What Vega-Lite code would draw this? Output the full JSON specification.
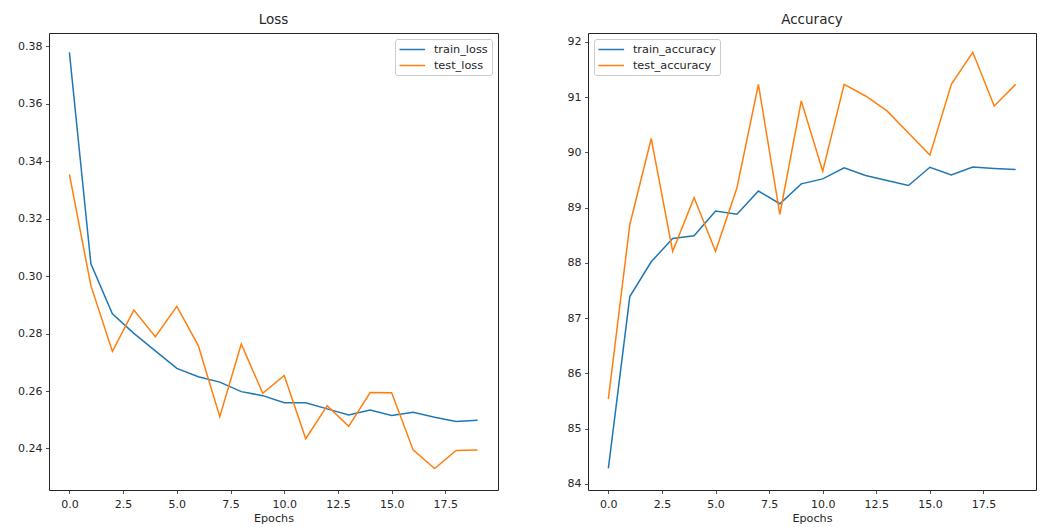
{
  "$schema": "https://vega.github.io/schema/vega-lite/v6.json",
  "background": "white",
  "padding": {"left": 17, "top": 12, "right": 4, "bottom": 0},
  "bounds": "flush",
  "spacing": 90,
  "datasets": {
    "loss": [
      {"epoch": 0, "series": "train_loss", "value": 0.3779},
      {"epoch": 1, "series": "train_loss", "value": 0.3043},
      {"epoch": 2, "series": "train_loss", "value": 0.2869},
      {"epoch": 3, "series": "train_loss", "value": 0.2801},
      {"epoch": 4, "series": "train_loss", "value": 0.2740},
      {"epoch": 5, "series": "train_loss", "value": 0.2679},
      {"epoch": 6, "series": "train_loss", "value": 0.2650},
      {"epoch": 7, "series": "train_loss", "value": 0.2631},
      {"epoch": 8, "series": "train_loss", "value": 0.2598},
      {"epoch": 9, "series": "train_loss", "value": 0.2584},
      {"epoch": 10, "series": "train_loss", "value": 0.2559},
      {"epoch": 11, "series": "train_loss", "value": 0.2559},
      {"epoch": 12, "series": "train_loss", "value": 0.2538},
      {"epoch": 13, "series": "train_loss", "value": 0.2517},
      {"epoch": 14, "series": "train_loss", "value": 0.2534},
      {"epoch": 15, "series": "train_loss", "value": 0.2515},
      {"epoch": 16, "series": "train_loss", "value": 0.2526},
      {"epoch": 17, "series": "train_loss", "value": 0.2509},
      {"epoch": 18, "series": "train_loss", "value": 0.2494},
      {"epoch": 19, "series": "train_loss", "value": 0.2498},
      {"epoch": 0, "series": "test_loss", "value": 0.3354},
      {"epoch": 1, "series": "test_loss", "value": 0.2967},
      {"epoch": 2, "series": "test_loss", "value": 0.2738},
      {"epoch": 3, "series": "test_loss", "value": 0.2882},
      {"epoch": 4, "series": "test_loss", "value": 0.2789},
      {"epoch": 5, "series": "test_loss", "value": 0.2895},
      {"epoch": 6, "series": "test_loss", "value": 0.2758},
      {"epoch": 7, "series": "test_loss", "value": 0.2511},
      {"epoch": 8, "series": "test_loss", "value": 0.2764},
      {"epoch": 9, "series": "test_loss", "value": 0.2592},
      {"epoch": 10, "series": "test_loss", "value": 0.2654},
      {"epoch": 11, "series": "test_loss", "value": 0.2434},
      {"epoch": 12, "series": "test_loss", "value": 0.2549},
      {"epoch": 13, "series": "test_loss", "value": 0.2477},
      {"epoch": 14, "series": "test_loss", "value": 0.2595},
      {"epoch": 15, "series": "test_loss", "value": 0.2594},
      {"epoch": 16, "series": "test_loss", "value": 0.2395},
      {"epoch": 17, "series": "test_loss", "value": 0.2330},
      {"epoch": 18, "series": "test_loss", "value": 0.2393},
      {"epoch": 19, "series": "test_loss", "value": 0.2395}
    ],
    "accuracy": [
      {"epoch": 0, "series": "train_accuracy", "value": 84.28},
      {"epoch": 1, "series": "train_accuracy", "value": 87.39},
      {"epoch": 2, "series": "train_accuracy", "value": 88.02},
      {"epoch": 3, "series": "train_accuracy", "value": 88.44},
      {"epoch": 4, "series": "train_accuracy", "value": 88.49},
      {"epoch": 5, "series": "train_accuracy", "value": 88.94},
      {"epoch": 6, "series": "train_accuracy", "value": 88.88},
      {"epoch": 7, "series": "train_accuracy", "value": 89.30},
      {"epoch": 8, "series": "train_accuracy", "value": 89.07},
      {"epoch": 9, "series": "train_accuracy", "value": 89.43},
      {"epoch": 10, "series": "train_accuracy", "value": 89.52},
      {"epoch": 11, "series": "train_accuracy", "value": 89.72},
      {"epoch": 12, "series": "train_accuracy", "value": 89.58},
      {"epoch": 13, "series": "train_accuracy", "value": 89.49},
      {"epoch": 14, "series": "train_accuracy", "value": 89.40},
      {"epoch": 15, "series": "train_accuracy", "value": 89.73},
      {"epoch": 16, "series": "train_accuracy", "value": 89.59},
      {"epoch": 17, "series": "train_accuracy", "value": 89.735},
      {"epoch": 18, "series": "train_accuracy", "value": 89.71},
      {"epoch": 19, "series": "train_accuracy", "value": 89.69},
      {"epoch": 0, "series": "test_accuracy", "value": 85.54},
      {"epoch": 1, "series": "test_accuracy", "value": 88.69},
      {"epoch": 2, "series": "test_accuracy", "value": 90.25},
      {"epoch": 3, "series": "test_accuracy", "value": 88.21},
      {"epoch": 4, "series": "test_accuracy", "value": 89.18},
      {"epoch": 5, "series": "test_accuracy", "value": 88.21},
      {"epoch": 6, "series": "test_accuracy", "value": 89.36},
      {"epoch": 7, "series": "test_accuracy", "value": 91.23},
      {"epoch": 8, "series": "test_accuracy", "value": 88.88},
      {"epoch": 9, "series": "test_accuracy", "value": 90.93},
      {"epoch": 10, "series": "test_accuracy", "value": 89.66},
      {"epoch": 11, "series": "test_accuracy", "value": 91.23},
      {"epoch": 12, "series": "test_accuracy", "value": 91.02},
      {"epoch": 13, "series": "test_accuracy", "value": 90.75},
      {"epoch": 14, "series": "test_accuracy", "value": 90.35},
      {"epoch": 15, "series": "test_accuracy", "value": 89.95},
      {"epoch": 16, "series": "test_accuracy", "value": 91.23},
      {"epoch": 17, "series": "test_accuracy", "value": 91.81},
      {"epoch": 18, "series": "test_accuracy", "value": 90.84},
      {"epoch": 19, "series": "test_accuracy", "value": 91.23}
    ]
  },
  "config": {
    "font": "DejaVu Sans",
    "view": {"stroke": "#262626", "strokeWidth": 1},
    "axis": {
      "grid": false,
      "domain": false,
      "ticks": true,
      "tickSize": 3.5,
      "tickWidth": 0.8,
      "tickColor": "#262626",
      "labelFont": "DejaVu Sans",
      "labelFontSize": 11,
      "labelColor": "#262626",
      "labelPadding": 3.5,
      "titleFont": "DejaVu Sans",
      "titleFontSize": 11.2,
      "titleFontWeight": "normal",
      "titleColor": "#262626",
      "titlePadding": 3
    },
    "axisX": {"labelPadding": 5},
    "title": {
      "font": "DejaVu Sans",
      "fontSize": 13.5,
      "fontWeight": "normal",
      "color": "#262626",
      "anchor": "middle",
      "baseline": "alphabetic",
      "offset": 6.5
    },
    "legend": {
      "title": null,
      "labelFont": "DejaVu Sans",
      "labelFontSize": 11.3,
      "labelColor": "#262626",
      "symbolType": "M-1,0H3.27",
      "symbolSize": 144,
      "symbolStrokeWidth": 1.5,
      "labelOffset": 21.4,
      "rowPadding": 3,
      "padding": 3.5,
      "offset": 5.6,
      "fillColor": "rgba(255,255,255,0.8)",
      "strokeColor": "#cccccc",
      "cornerRadius": 2.5
    },
    "line": {"strokeWidth": 1.5}
  },
  "hconcat": [
    {
      "title": "Loss",
      "width": 449,
      "height": 457,
      "data": {"name": "loss"},
      "mark": {"type": "line", "clip": false},
      "encoding": {
        "x": {
          "field": "epoch",
          "type": "quantitative",
          "title": "Epochs",
          "scale": {"domain": [-0.95, 19.95], "nice": false, "zero": false},
          "axis": {"values": [0, 2.5, 5, 7.5, 10, 12.5, 15, 17.5], "format": ".1f"}
        },
        "y": {
          "field": "value",
          "type": "quantitative",
          "title": null,
          "scale": {"domain": [0.22555, 0.38465], "nice": false, "zero": false},
          "axis": {"values": [0.24, 0.26, 0.28, 0.30, 0.32, 0.34, 0.36, 0.38], "format": ".2f"}
        },
        "color": {
          "field": "series",
          "type": "nominal",
          "sort": ["train_loss", "test_loss"],
          "scale": {"domain": ["train_loss", "test_loss"], "range": ["#1f77b4", "#ff7f0e"]},
          "legend": {"orient": "top-right"}
        }
      }
    },
    {
      "title": "Accuracy",
      "width": 448,
      "height": 457,
      "data": {"name": "accuracy"},
      "mark": {"type": "line", "clip": false},
      "encoding": {
        "x": {
          "field": "epoch",
          "type": "quantitative",
          "title": "Epochs",
          "scale": {"domain": [-0.95, 19.95], "nice": false, "zero": false},
          "axis": {"values": [0, 2.5, 5, 7.5, 10, 12.5, 15, 17.5], "format": ".1f"}
        },
        "y": {
          "field": "value",
          "type": "quantitative",
          "title": null,
          "scale": {"domain": [83.89, 92.16], "nice": false, "zero": false},
          "axis": {"values": [84, 85, 86, 87, 88, 89, 90, 91, 92], "format": "d"}
        },
        "color": {
          "field": "series",
          "type": "nominal",
          "sort": ["train_accuracy", "test_accuracy"],
          "scale": {"domain": ["train_accuracy", "test_accuracy"], "range": ["#1f77b4", "#ff7f0e"]},
          "legend": {"orient": "top-left"}
        }
      }
    }
  ],
  "resolve": {
    "scale": {"color": "independent", "y": "independent", "x": "independent"},
    "legend": {"color": "independent"}
  }
}
